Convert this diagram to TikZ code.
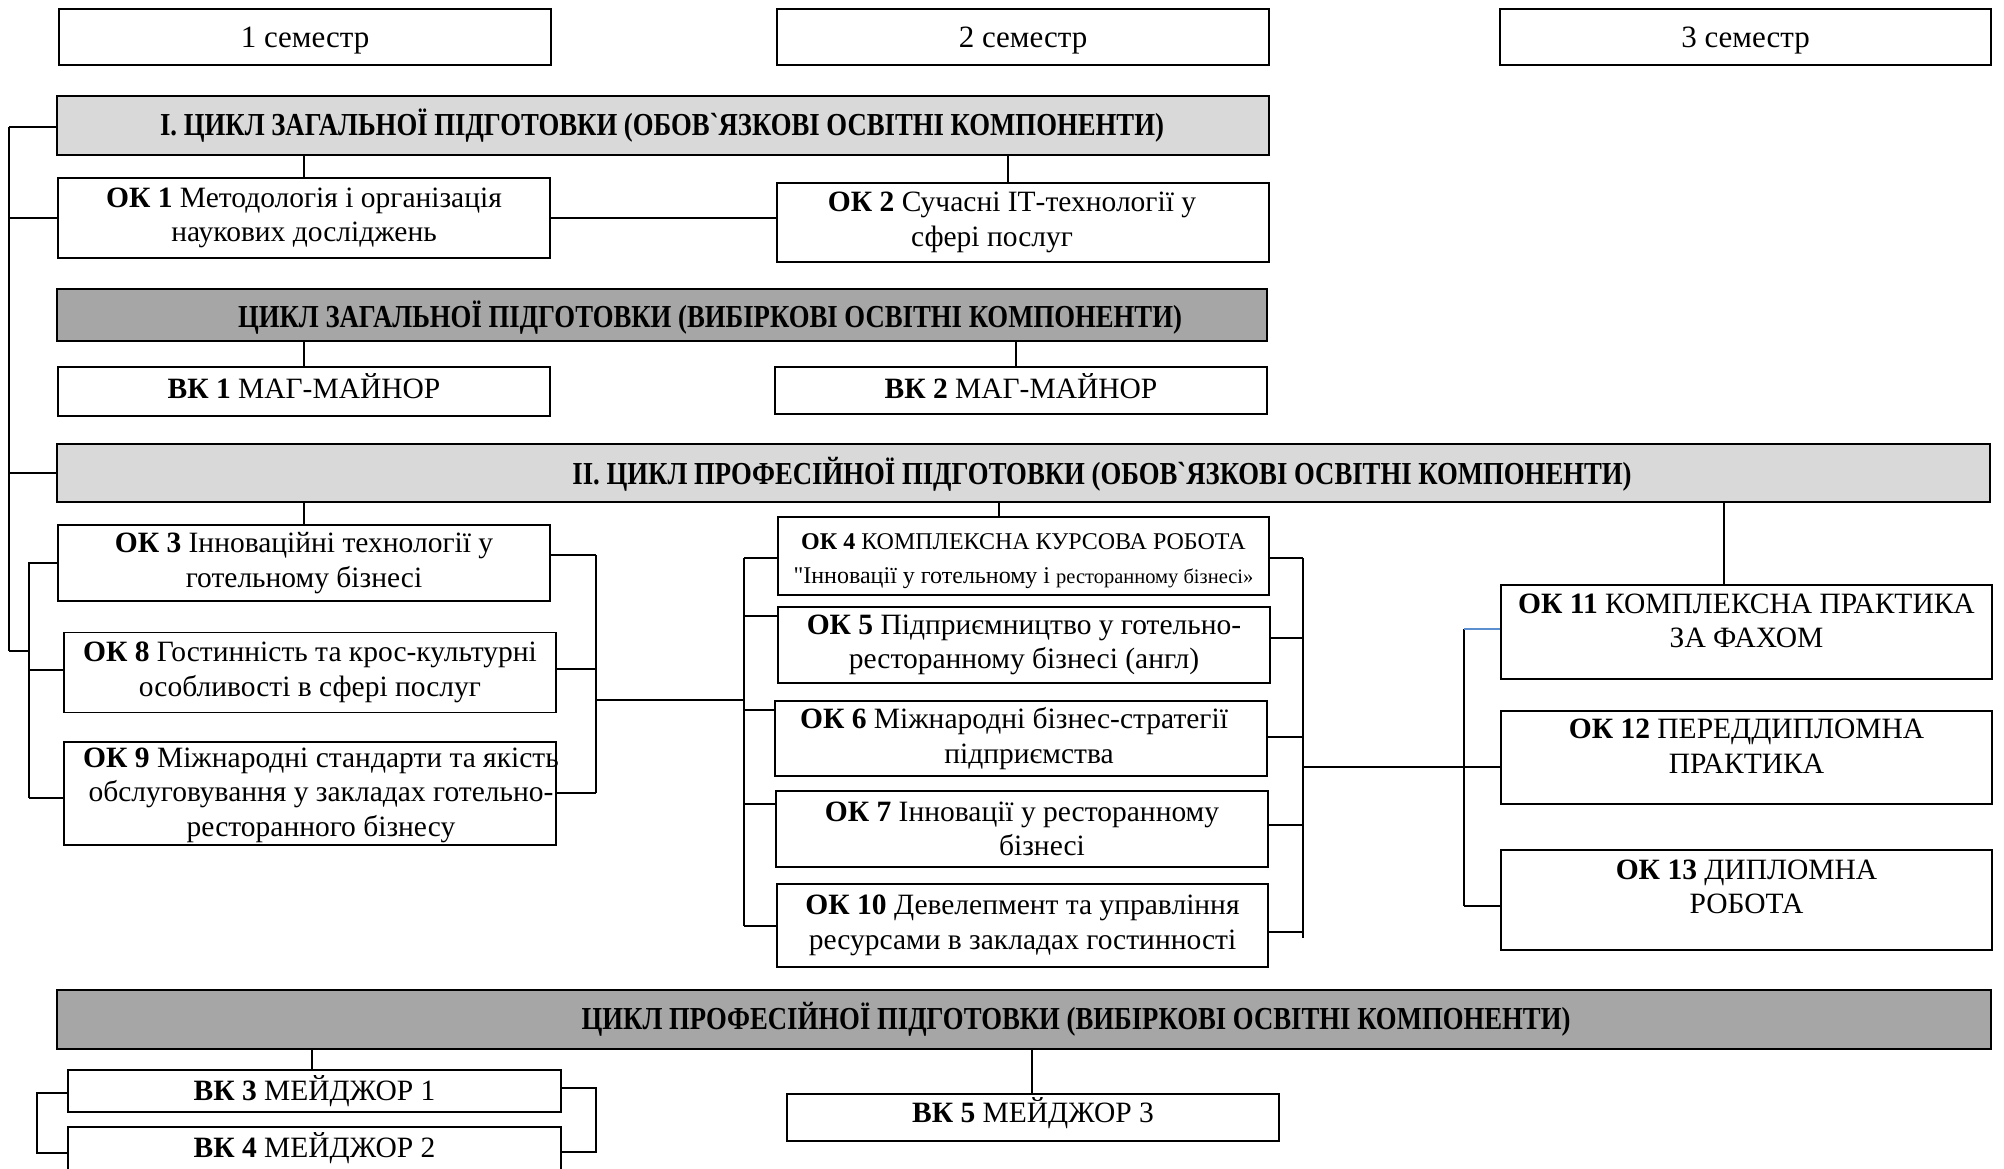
\documentclass[tikz,border=0pt]{standalone}
\usepackage{fontspec}
\usepackage{graphicx}
\newfontfamily\tnr{Liberation Serif}
\usetikzlibrary{calc}
\definecolor{lgray}{HTML}{D9D9D9}
\definecolor{dgray}{HTML}{A6A6A6}
\definecolor{stubblue}{HTML}{5B8FD0}
\begin{document}
\begin{tikzpicture}[x=1pt,y=-1pt,
  box/.style={draw=black, line width=1.8pt, inner sep=0pt, minimum width=492pt, align=center, font=\tnr\fontsize{29.5}{34.5}\selectfont},
  sembox/.style={draw=black, line width=1.3pt, inner sep=0pt, minimum width=492pt, minimum height=56pt},
  semtxt/.style={inner sep=0pt, font=\tnr\fontsize{31}{36}\selectfont},
  txt/.style={inner sep=0pt, align=center, font=\tnr\fontsize{29.5}{34.5}\selectfont},
  hlight/.style={draw=black, line width=1.8pt, inner sep=0pt, fill=lgray},
  hdark/.style={draw=black, line width=1.8pt, inner sep=0pt, fill=dgray},
  htxt/.style={inner sep=0pt, font=\tnr\bfseries\fontsize{32}{36}\selectfont},
  conn/.style={line width=1.6pt, draw=black},
]
\path[use as bounding box] (0,0) rectangle (2004,1168);
\clip (0,0) rectangle (2004,1168);

% semesters
\node[sembox] (s1) at (305,37) {};
\node[semtxt] (s1t) at (305,41) {1 семестр};
\node[sembox] (s2) at (1023,37) {};
\node[semtxt] (s2t) at (1023,41) {2 семестр};
\node[sembox, minimum width=491pt] (s3) at (1745.5,37) {};
\node[semtxt] (s3t) at (1745.5,41) {3 семестр};

% headers
\node[hlight, minimum width=1212pt, minimum height=59pt] (h1) at (663,125.5) {};
\node[htxt] (h1t) at (662,125.5) {\scalebox{0.835}[1]{І. ЦИКЛ ЗАГАЛЬНОЇ ПІДГОТОВКИ (ОБОВ`ЯЗКОВІ ОСВІТНІ КОМПОНЕНТИ)}};
\node[hdark, minimum width=1210pt, minimum height=52pt] (d1) at (662,315) {};
\node[htxt] (d1t) at (710,318) {\scalebox{0.835}[1]{ЦИКЛ ЗАГАЛЬНОЇ ПІДГОТОВКИ (ВИБІРКОВІ ОСВІТНІ КОМПОНЕНТИ)}};
\node[hlight, minimum width=1933pt, minimum height=58pt] (h2) at (1023.5,473) {};
\node[htxt] (h2t) at (1102,474) {\scalebox{0.835}[1]{ІІ. ЦИКЛ ПРОФЕСІЙНОЇ ПІДГОТОВКИ (ОБОВ`ЯЗКОВІ ОСВІТНІ КОМПОНЕНТИ)}};
\node[hdark, minimum width=1934pt, minimum height=59pt] (d2) at (1024,1019.5) {};
\node[htxt] (d2t) at (1076,1019.5) {\scalebox{0.835}[1]{ЦИКЛ ПРОФЕСІЙНОЇ ПІДГОТОВКИ (ВИБІРКОВІ ОСВІТНІ КОМПОНЕНТИ)}};

% general cycle boxes
\node[box, minimum height=80pt] (ok1) at (304,218) {\textbf{ОК 1} Методологія і організація\\наукових досліджень};
\node[box, minimum height=79pt] (ok2) at (1023,222.5) {\textbf{ОК 2} Сучасні ІТ-технології у\hspace*{22pt}\\сфері послуг\hspace*{62pt}};
\node[box, minimum height=49pt] (vk1) at (304,391.5) {};
\node[txt] (vk1t) at (304,386) {\textbf{ВК 1} МАГ-МАЙНОР};
\node[box, minimum height=47pt] (vk2) at (1021,390.5) {};
\node[txt] (vk2t) at (1021,386) {\textbf{ВК 2} МАГ-МАЙНОР};

% professional cycle, column 1
\node[box, minimum height=76pt] (ok3) at (304,563) {\textbf{ОК 3} Інноваційні технології у\\готельному бізнесі};
\node[box, minimum height=80pt] (ok8) at (310,672.5) {\textbf{ОК 8} Гостинність та крос-культурні\\особливості в сфері послуг};
\node[box, minimum height=103pt] (ok9) at (310,793.5) {};
\node[txt] (ok9t) at (321,795) {\textbf{ОК 9} Міжнародні стандарти та якість\\обслуговування у закладах готельно-\\ресторанного бізнесу};

% column 2
\node[box, minimum width=491pt, minimum height=78pt] (ok4) at (1023.5,556) {};
\node[txt] (ok4t) at (1023.5,561) {{\fontsize{24}{29}\selectfont\textbf{ОК 4} КОМПЛЕКСНА КУРСОВА РОБОТА}\\{\fontsize{24}{29}\selectfont "Інновації у готельному і {\fontsize{20.5}{29}\selectfont ресторанному бізнесі»}}};
\node[box, minimum height=76pt] (ok5) at (1024,645) {\textbf{ОК 5} Підприємництво у готельно-\\ресторанному бізнесі (англ)};
\node[box, minimum height=75pt] (ok6) at (1021,738.5) {\textbf{ОК 6} Міжнародні бізнес-стратегії\hspace*{14pt}\\\hspace*{16pt}підприємства};
\node[box, minimum height=76pt] (ok7) at (1022,829) {\textbf{ОК 7} Інновації у ресторанному\\\hspace*{40pt}бізнесі};
\node[box, minimum width=491pt, minimum height=83pt] (ok10) at (1022.5,925.5) {\textbf{ОК 10} Девелепмент та управління\\ресурсами в закладах гостинності};

% column 3
\node[box, minimum width=491pt, minimum height=94pt] (ok11) at (1746.5,632) {};
\node[txt] (ok11t) at (1746.5,621) {\textbf{ОК 11} КОМПЛЕКСНА ПРАКТИКА\\ЗА ФАХОМ};
\node[box, minimum width=491pt, minimum height=93pt] (ok12) at (1746.5,757.5) {};
\node[txt] (ok12t) at (1746.5,746) {\textbf{ОК 12} ПЕРЕДДИПЛОМНА\\ПРАКТИКА};
\node[box, minimum width=491pt, minimum height=100pt] (ok13) at (1746.5,900) {};
\node[txt] (ok13t) at (1746.5,887) {\textbf{ОК 13} ДИПЛОМНА\\РОБОТА};

% elective professional
\node[box, minimum width=493pt, minimum height=42pt] (vk3) at (314.5,1091) {\textbf{ВК 3} МЕЙДЖОР 1};
\node[box, minimum width=493pt, minimum height=70pt] (vk4) at (314.5,1162) {};
\node[txt] (vk4t) at (314.5,1148) {\textbf{ВК 4} МЕЙДЖОР 2};
\node[box, minimum height=47pt] (vk5) at (1033,1117.5) {};
\node[txt] (vk5t) at (1033,1113) {\textbf{ВК 5} МЕЙДЖОР 3};

% ---- connectors ----
% outer left spine
\coordinate (L0a) at (9,127);
\coordinate (L0b) at (9,651);
\draw[conn] (L0a) -- (L0b);
\draw[conn] (L0a) -- (L0a -| h1.west);
\draw[conn] (ok1.west -| L0a) -- (ok1.west);
\draw[conn] (h2.west -| L0a) -- (h2.west);
% inner left bracket
\coordinate (L1a) at (29,562);
\coordinate (L1b) at (29,798);
\coordinate (l8) at (29,670);
\draw[conn] (L0b) -- (L0b -| L1a);
\draw[conn] (L1a) -- (L1b);
\draw[conn] (ok3.west -| L1a) -- (ok3.west);
\draw[conn] (l8) -- (l8 -| ok8.west);
\draw[conn] (L1b) -- (L1b -| ok9.west);
% right bracket of column 1
\coordinate (R1a) at (596,555);
\coordinate (R1b) at (596,793);
\coordinate (r8) at (596,669);
\coordinate (J1) at (596,700);
\draw[conn] (R1a) -- (R1b);
\draw[conn] (R1a -| ok3.east) -- (R1a);
\draw[conn] (r8 -| ok8.east) -- (r8);
\draw[conn] (R1b -| ok9.east) -- (R1b);
% left bracket of column 2
\coordinate (M1a) at (744,558);
\coordinate (M1b) at (744,926);
\coordinate (m5) at (744,616);
\coordinate (m6) at (744,710);
\coordinate (m7) at (744,804);
\draw[conn] (J1) -- (J1 -| M1a);
\draw[conn] (M1a) -- (M1b);
\draw[conn] (M1a) -- (M1a -| ok4.west);
\draw[conn] (m5) -- (m5 -| ok5.west);
\draw[conn] (m6) -- (m6 -| ok6.west);
\draw[conn] (m7) -- (m7 -| ok7.west);
\draw[conn] (M1b) -- (M1b -| ok10.west);
% right bracket of column 2
\coordinate (M2a) at (1303,558);
\coordinate (M2b) at (1303,938);
\coordinate (n5) at (1303,638);
\coordinate (n6) at (1303,737);
\coordinate (n7) at (1303,825);
\coordinate (n10) at (1303,932);
\coordinate (J2) at (1303,767);
\draw[conn] (M2a) -- (M2b);
\draw[conn] (M2a -| ok4.east) -- (M2a);
\draw[conn] (n5 -| ok5.east) -- (n5);
\draw[conn] (n6 -| ok6.east) -- (n6);
\draw[conn] (n7 -| ok7.east) -- (n7);
\draw[conn] (n10 -| ok10.east) -- (n10);
\draw[conn] (J2) -- (J2 -| ok12.west);
% bracket of column 3
\coordinate (R3a) at (1464,629);
\coordinate (R3b) at (1464,906);
\draw[conn] (R3a) -- (R3b);
\draw[conn, draw=stubblue] (R3a) -- (R3a -| ok11.west);
\draw[conn] (R3b) -- (R3b -| ok13.west);

% vertical drops from headers
\coordinate (x2) at (1008,0);
\coordinate (xv2) at (1016,0);
\coordinate (x4) at (999,0);
\coordinate (x11) at (1724,0);
\coordinate (x3) at (312,0);
\coordinate (x5) at (1032,0);
\draw[conn] (h1.south -| ok1.north) -- (ok1.north);
\draw[conn] (h1.south -| x2) -- (ok2.north -| x2);
\draw[conn] (d1.south -| vk1.north) -- (vk1.north);
\draw[conn] (d1.south -| xv2) -- (vk2.north -| xv2);
\draw[conn] (h2.south -| ok3.north) -- (ok3.north);
\draw[conn] (h2.south -| x4) -- (ok4.north -| x4);
\draw[conn] (h2.south -| x11) -- (ok11.north -| x11);
\draw[conn] (d2.south -| x3) -- (vk3.north -| x3);
\draw[conn] (d2.south -| x5) -- (vk5.north -| x5);
% horizontal OK1 -- OK2
\draw[conn] (ok1.east) -- (ok1.east -| ok2.west);

% brackets around VK3/VK4
\coordinate (B1a) at (37,1093);
\coordinate (B1b) at (37,1153);
\coordinate (B2a) at (596,1088);
\coordinate (B2b) at (596,1152);
\draw[conn] (B1a -| vk3.west) -- (B1a) -- (B1b) -- (B1b -| vk4.west);
\draw[conn] (B2a -| vk3.east) -- (B2a) -- (B2b) -- (B2b -| vk4.east);
\end{tikzpicture}
\end{document}
